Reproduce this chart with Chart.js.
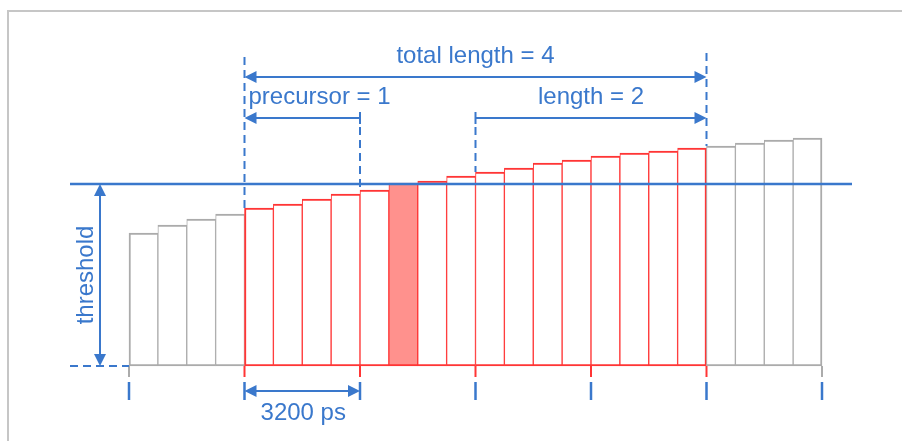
<!DOCTYPE html>
<html>
<head>
<meta charset="utf-8">
<script src="https://cdn.jsdelivr.net/npm/chart.js@4.4.1/dist/chart.umd.min.js"></script>
<style>
html, body { margin: 0; padding: 0; background: #fff; }
canvas { display: block; }
</style>
</head>
<body>
<canvas id="chart" width="902" height="441"></canvas>
<script>
// one bar per sample, 4 samples per 3200 ps unit interval
const sampleLabels = ['0', '1', '2', '3', '4', '5', '6', '7', '8', '9', '10', '11',
                      '12', '13', '14', '15', '16', '17', '18', '19', '20', '21', '22', '23'];
const sampleValues = [133, 141, 147, 152, 158, 162, 167, 172, 176, 183, 185, 190,
                      194, 198, 203, 206, 210, 213, 215, 218, 220, 223, 226, 228];
const thresholdLevel = 182;

// window boundaries (sample index): start, precursor end, length start, end
const windowBounds = [4, 8, 12, 20];
const crossingIndex = 9;
const tickBounds = [0, 4, 8, 12, 16, 20, 24];

const annotationTexts = ['total length = 4', 'precursor = 1', 'length = 2', '3200 ps', 'threshold'];

const BLUE = '#3a78cc';
const RED = '#ff3535';
const GRAY = '#ababab';
const FILL = '#ff918d';
const FONT = '24px "Liberation Sans", Arial, sans-serif';

const inWindow = i => i >= windowBounds[0] && i < windowBounds[3];

function arrowHead(ctx, x, y, angle) {
    const len = 12, half = 6;
    ctx.save();
    ctx.translate(x, y);
    ctx.rotate(angle);
    ctx.beginPath();
    ctx.moveTo(0, 0);
    ctx.lineTo(-len, -half);
    ctx.lineTo(-len, half);
    ctx.closePath();
    ctx.fill();
    ctx.restore();
}

function line(ctx, x1, y1, x2, y2, dash) {
    ctx.save();
    if (dash) ctx.setLineDash(dash);
    ctx.beginPath();
    ctx.moveTo(x1, y1);
    ctx.lineTo(x2, y2);
    ctx.stroke();
    ctx.restore();
}

function hArrow(ctx, x1, x2, y, headLeft, headRight) {
    line(ctx, x1 + (headLeft ? 4 : 0), y, x2 - (headRight ? 4 : 0), y);
    if (headLeft) arrowHead(ctx, x1, y, Math.PI);
    if (headRight) arrowHead(ctx, x2, y, 0);
}

const overlay = {
    id: 'overlay',
    beforeDraw(chart) {
        const ctx = chart.ctx;
        ctx.save();
        ctx.strokeStyle = '#c6c6c6';
        ctx.lineWidth = 2;
        ctx.beginPath();
        ctx.moveTo(8, chart.height);
        ctx.lineTo(8, 11);
        ctx.lineTo(chart.width, 11);
        ctx.stroke();
        ctx.restore();
    },
    afterDatasetsDraw(chart) {
        const { ctx, scales: { x, y } } = chart;
        const edge = i => x.getPixelForValue(i - 0.5);
        const top = i => y.getPixelForValue(sampleValues[i]);
        const base = y.getPixelForValue(0);
        const thr = y.getPixelForValue(thresholdLevel);
        const [w0, w1, w2, w3] = windowBounds.map(edge);

        ctx.save();

        // stubs under the baseline
        ctx.lineWidth = 2;
        tickBounds.forEach(b => {
            ctx.strokeStyle = (b >= windowBounds[0] && b <= windowBounds[3]) ? RED : GRAY;
            line(ctx, edge(b), base, edge(b), base + 11);
        });

        ctx.strokeStyle = BLUE;
        ctx.fillStyle = BLUE;

        // blue ticks
        ctx.lineWidth = 2.5;
        tickBounds.forEach(b => line(ctx, edge(b), base + 16, edge(b), base + 34));

        // threshold line
        ctx.lineWidth = 2.5;
        line(ctx, 70, thr, x.right + 30, thr);

        ctx.lineWidth = 2;
        // dashed baseline on the left
        line(ctx, 70, base, x.left, base, [8, 5]);

        // threshold arrow
        line(ctx, 100, thr + 4, 100, base - 4);
        arrowHead(ctx, 100, thr, -Math.PI / 2);
        arrowHead(ctx, 100, base, Math.PI / 2);

        // dashed window boundaries
        const totalY = 77, subY = 118;
        line(ctx, w0, 57, w0, top(windowBounds[0]), [8, 5]);
        line(ctx, w3, 53, w3, top(windowBounds[3]), [8, 5]);
        line(ctx, w1, subY - 6, w1, subY + 6);
        line(ctx, w2, subY - 6, w2, subY + 6);
        line(ctx, w1, subY + 9, w1, top(windowBounds[1]), [8, 5]);
        line(ctx, w2, subY + 9, w2, top(windowBounds[2]), [8, 5]);

        // arrows
        hArrow(ctx, w0, w3, totalY, true, true);
        hArrow(ctx, w0, w1, subY, true, false);
        hArrow(ctx, w2, w3, subY, false, true);
        hArrow(ctx, w0, w1, base + 25, true, true);

        // texts
        ctx.font = FONT;
        ctx.textBaseline = 'alphabetic';
        ctx.textAlign = 'center';
        ctx.fillText(annotationTexts[0], (w0 + w3) / 2, 63);
        ctx.textAlign = 'left';
        ctx.fillText(annotationTexts[1], w0 + 4, 104);
        ctx.textAlign = 'center';
        ctx.fillText(annotationTexts[2], (w2 + w3) / 2, 104);
        ctx.fillText(annotationTexts[3], (w0 + w1) / 2 + 1, 420);

        ctx.save();
        ctx.translate(93, (thr + base) / 2);
        ctx.rotate(-Math.PI / 2);
        ctx.textAlign = 'center';
        ctx.fillText(annotationTexts[4], 0, 0);
        ctx.restore();

        ctx.restore();
    }
};

const lastIndex = sampleValues.length - 1;

new Chart(document.getElementById('chart'), {
    type: 'bar',
    data: {
        labels: sampleLabels,
        datasets: [{
            data: sampleValues,
            backgroundColor: sampleValues.map((v, i) => i === crossingIndex ? FILL : '#ffffff'),
            borderColor: sampleValues.map((v, i) => inWindow(i) ? RED : GRAY),
            borderWidth: c => ({
                top: 2,
                bottom: 2,
                left: (c.dataIndex === 0 || c.dataIndex === windowBounds[0]) ? 2 : 1,
                right: (c.dataIndex === lastIndex || c.dataIndex === windowBounds[3] - 1) ? 2 : 1
            }),
            borderSkipped: false,
            barPercentage: 1,
            categoryPercentage: 1,
            clip: false
        }]
    },
    options: {
        responsive: false,
        animation: false,
        layout: { padding: { left: 129, right: 80, top: 30, bottom: 75 } },
        plugins: { legend: { display: false }, tooltip: { enabled: false } },
        scales: {
            x: { display: false },
            y: { display: false, min: 0, max: 336 }
        }
    },
    plugins: [overlay]
});
</script>
</body>
</html>
